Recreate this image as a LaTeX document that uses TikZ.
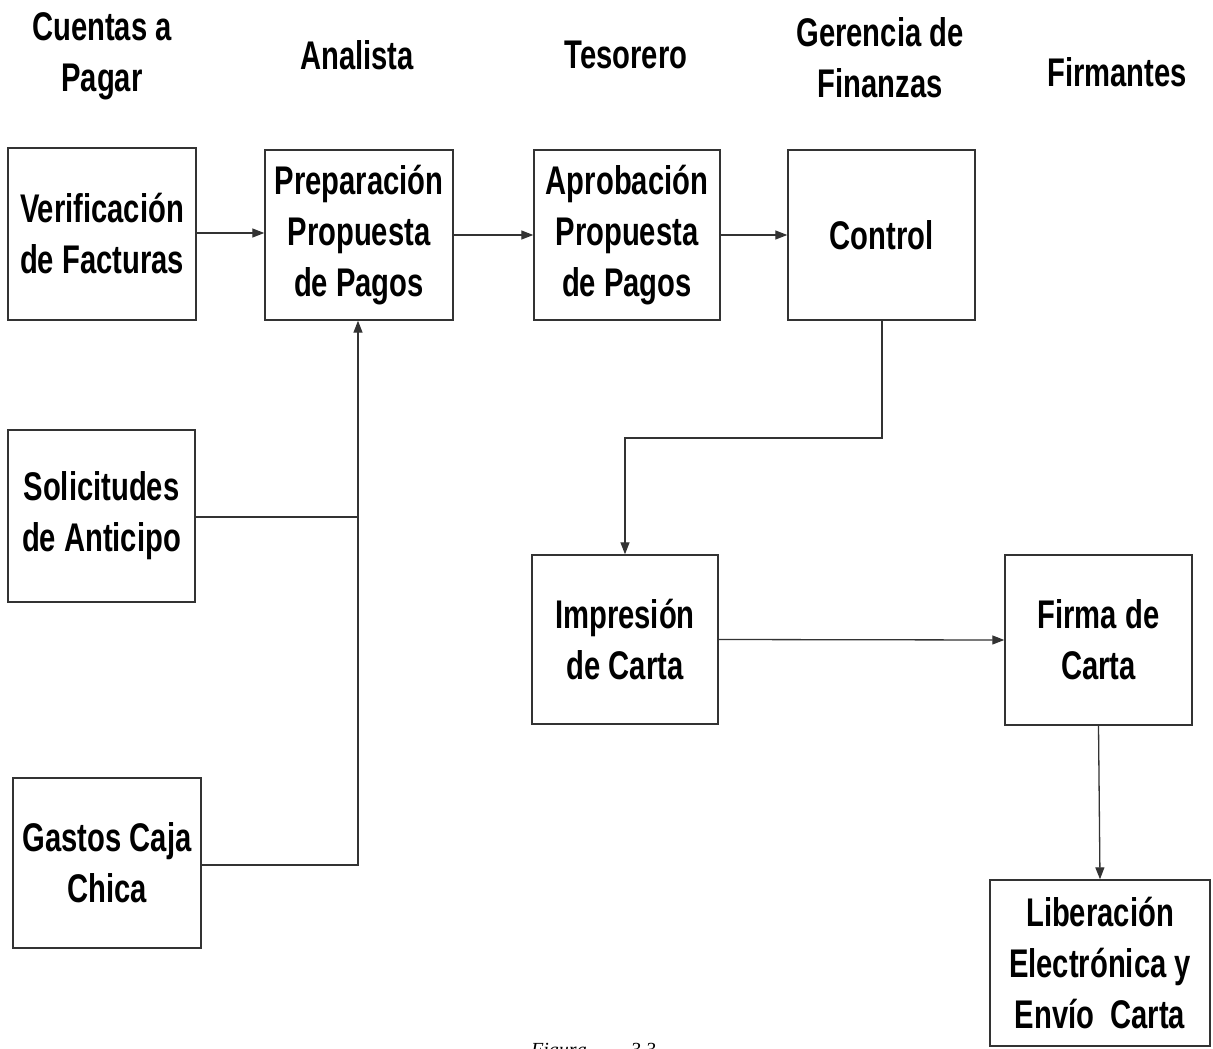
\documentclass[tikz,border=0pt]{standalone}
\usepackage{fontspec}
\setmainfont{Liberation Sans}[FakeStretch=0.73]
\newfontfamily\capfont{Liberation Serif}
\usetikzlibrary{arrows.meta}
\begin{document}
\begin{tikzpicture}[x=1pt,y=-1pt,
  box/.style={draw=black!80,line width=1.4pt,minimum width=#1,inner sep=0pt,
    font=\fontsize{40}{51}\selectfont\bfseries,align=center},
  box/.default=188pt,
  head/.style={font=\fontsize{40}{51}\selectfont\bfseries,align=center},
  conn/.style={draw=black!80,line width=1.3pt},
  arr/.style={conn,-{Triangle[length=12pt,width=9pt]}}]
\useasboundingbox (0,0) rectangle (1213,1049);
% column headings
\node[head] (h1) at (102,56) {Cuentas a\\Pagar};
\node[head] (h2) at (357,55) {Analista};
\node[head] (h3) at (626,55) {Tesorero};
\node[head] (h4) at (880,58) {Gerencia de\\Finanzas};
\node[head] (h5) at (1117,72) {Firmantes};
% process boxes
\node[box,minimum height=172pt] (ver) at (102,234) {Verificación\\de Facturas};
\node[box,minimum height=170pt] (prep) at (359,235) {Preparación\\Propuesta\\de Pagos};
\node[box=186pt,minimum height=170pt] (apr) at (627,235) {Aprobación\\Propuesta\\de Pagos};
\node[box=187pt,minimum height=170pt] (ctl) at (881.5,235) {Control};
\node[box=187pt,minimum height=172pt] (sol) at (101.5,516) {Solicitudes\\de Anticipo};
\node[box,minimum height=170pt] (gas) at (107,863) {Gastos Caja\\Chica};
\node[box=186pt,minimum height=169pt] (imp) at (625,639.5) {Impresión\\de Carta};
\node[box=187pt,minimum height=170pt] (fir) at (1098.5,640) {Firma de\\Carta};
\node[box=220pt,minimum height=166pt] (lib) at (1100,963) {Liberación\\Electrónica y\\Envío~ Carta};
% junction points
\coordinate (jsol) at (358,517);
\coordinate (jgas) at (358,865);
\coordinate (jc1) at (882,438);
\coordinate (jc2) at (625,438);
% connectors
\draw[arr] (ver.east |- 0,233) -- (prep.west |- 0,233);
\draw[arr] (prep.east |- 0,235) -- (apr.west |- 0,235);
\draw[arr] (apr.east |- 0,235) -- (ctl.west |- 0,235);
\draw[conn] (sol.east |- jsol) -- (jsol);
\draw[arr] (gas.east |- jgas) -- (jgas) -- (jgas |- prep.south);
\draw[arr] (jc1 |- ctl.south) -- (jc1) -- (jc2) -- (imp.north -| jc2);
\draw[arr] (imp.east) -- (fir.west);
\draw[arr] (fir.south) -- (lib.north);
% caption, cut by the lower edge
\node[anchor=base west,inner sep=0pt,font=\capfont\itshape\fontsize{20}{24}\selectfont] (cap) at (531,1056) {Figura\hspace{44pt}3.3};
\end{tikzpicture}
\end{document}
